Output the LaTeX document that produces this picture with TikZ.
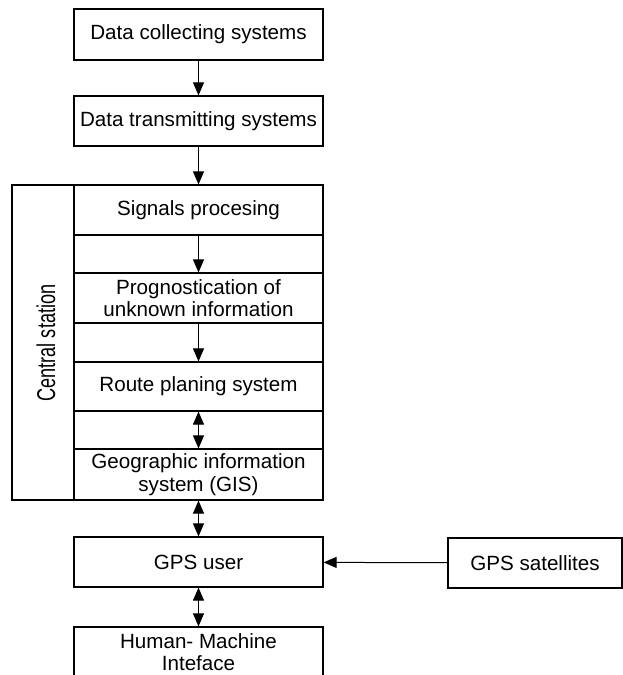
\documentclass[tikz,border=0pt]{standalone}
\usepackage{fontspec}
\setmainfont{Liberation Sans}
\usetikzlibrary{arrows.meta}
\begin{document}
\begin{tikzpicture}[x=1pt,y=-1pt,
        box/.style={draw,line width=1.2pt,minimum width=249pt,minimum height=50pt,inner sep=0pt,align=center,font=\fontsize{20.6}{22.5}\selectfont},
        con/.style={line width=1pt,-{Triangle[length=13pt,width=11pt]}},
        bicon/.style={line width=1pt,{Triangle[length=13pt,width=11pt]}-{Triangle[length=13pt,width=11pt]}}]
                \clip (0,0) rectangle (623,675);
                \draw (198.5,34.5) node[box,minimum height=51pt] (dcs) {Data collecting systems};
                \draw (198.5,121) node[box] (dts) {Data transmitting systems};
                \draw[line width=1.2pt] (12,185) rectangle (323,500);
                \draw[line width=1.2pt] (74,185) -- (74,500);
                \draw (46,343) node[rotate=90,font=\fontsize{20.6}{22.5}\selectfont] (cs) {\scalebox{0.88}[1.25]{Central station}};
                \draw (198.5,210) node[box] (sig) {Signals procesing};
                \draw (198.5,298) node[box] (prog) {Prognostication of\\unknown information};
                \draw (198.5,386.5) node[box,minimum height=49pt] (route) {Route planing system};
                \draw (198.5,474.5) node[box,minimum height=51pt] (gis) {Geographic information\\system (GIS)};
                \draw (198.5,562) node[box] (user) {GPS user};
                \draw (535,563) node[box,minimum width=174pt] (sat) {GPS satellites};
                \draw (198.5,652) node[box] (hmi) {Human- Machine\\Inteface};
                \draw[con] (dcs) -- (dts);
                \draw[con] (dts) -- (sig);
                \draw[con] (sig) -- (prog);
                \draw[con] (prog) -- (route);
                \draw[bicon] (route) -- (gis);
                \draw[bicon] (gis) -- (user);
                \draw[bicon] (user) -- (hmi);
                \draw[con] (sat) -- (user);
            \end{tikzpicture}
\end{document}
